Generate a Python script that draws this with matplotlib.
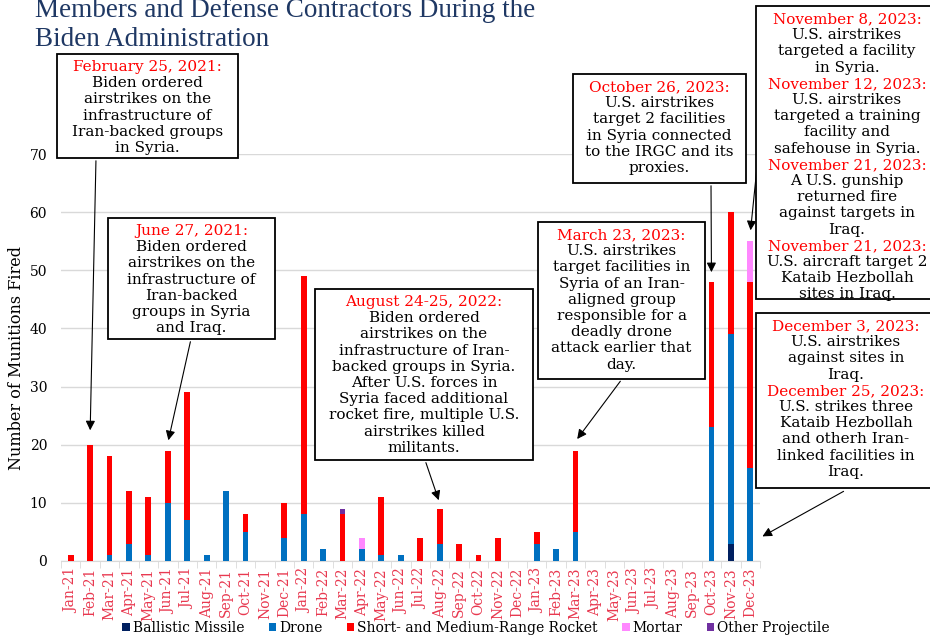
import numpy as np
import matplotlib.pyplot as plt
from matplotlib.patches import Rectangle, Patch

# Monthly munitions fired, Jan 2021 - Dec 2023
months = ['Jan-21', 'Feb-21', 'Mar-21', 'Apr-21', 'May-21', 'Jun-21', 'Jul-21', 'Aug-21', 'Sep-21',
          'Oct-21', 'Nov-21', 'Dec-21', 'Jan-22', 'Feb-22', 'Mar-22', 'Apr-22', 'May-22', 'Jun-22',
          'Jul-22', 'Aug-22', 'Sep-22', 'Oct-22', 'Nov-22', 'Dec-22', 'Jan-23', 'Feb-23', 'Mar-23',
          'Apr-23', 'May-23', 'Jun-23', 'Jul-23', 'Aug-23', 'Sep-23', 'Oct-23', 'Nov-23', 'Dec-23']
ballistic = [0, 0, 0, 0, 0, 0, 0, 0, 0, 0, 0, 0, 0, 0, 0, 0, 0, 0,
             0, 0, 0, 0, 0, 0, 0, 0, 0, 0, 0, 0, 0, 0, 0, 0, 3, 0]
drone = [0, 0, 1, 3, 1, 10, 7, 1, 12, 5, 0, 4, 8, 2, 0, 2, 1, 1,
         0, 3, 0, 0, 0, 0, 3, 2, 5, 0, 0, 0, 0, 0, 0, 23, 36, 16]
rocket = [1, 20, 17, 9, 10, 9, 22, 0, 0, 3, 0, 6, 41, 0, 8, 0, 10, 0,
          4, 6, 3, 1, 4, 0, 2, 0, 14, 0, 0, 0, 0, 0, 0, 25, 21, 32]
mortar = [0, 0, 0, 0, 0, 0, 0, 0, 0, 0, 0, 0, 0, 0, 0, 2, 0, 0,
          0, 0, 0, 0, 0, 0, 0, 0, 0, 0, 0, 0, 0, 0, 0, 0, 0, 7]
other = [0, 0, 0, 0, 0, 0, 0, 0, 0, 0, 0, 0, 0, 0, 1, 0, 0, 0,
         0, 0, 0, 0, 0, 0, 0, 0, 0, 0, 0, 0, 0, 0, 0, 0, 0, 0]

series_names = ['Ballistic Missile', 'Drone', 'Short- and Medium-Range Rocket', 'Mortar', 'Other Projectile']
series_colors = ['#002060', '#0070C0', '#FF0000', '#FF88FF', '#7030A0']

title_lines = ['Members and Defense Contractors During the', 'Biden Administration']

# annotation boxes (left, top, right, bottom in px), date headers in red
notes = [
    dict(box=(57, 54, 238, 158), cx=None, arrow_from=(96, 158), target=('Feb-21', 2.0),
         lines=[('February 25, 2021:', 'r'), ('Biden ordered', 'k'), ('airstrikes on the', 'k'),
                ('infrastructure of', 'k'), ('Iran-backed groups', 'k'), ('in Syria.', 'k')]),
    dict(box=(108, 218, 275, 339), cx=None, arrow_from=(191, 339), target=('Jun-21', 1.3),
         lines=[('June 27, 2021:', 'r'), ('Biden ordered', 'k'), ('airstrikes on the', 'k'),
                ('infrastructure of', 'k'), ('Iran-backed', 'k'), ('groups in Syria', 'k'), ('and Iraq.', 'k')]),
    dict(box=(315, 289, 533, 460), cx=None, arrow_from=(425, 460), target=('Aug-22', 1.0),
         lines=[('August 24-25, 2022:', 'r'), ('Biden ordered', 'k'), ('airstrikes on the', 'k'),
                ('infrastructure of Iran-', 'k'), ('backed groups in Syria.', 'k'),
                ('After U.S. forces in', 'k'), ('Syria faced additional', 'k'),
                ('rocket fire, multiple U.S.', 'k'), ('airstrikes killed', 'k'), ('militants.', 'k')]),
    dict(box=(538, 222, 705, 379), cx=None, arrow_from=(622, 379), target=('Mar-23', 1.6),
         lines=[('March 23, 2023:', 'r'), ('U.S. airstrikes', 'k'), ('target facilities in', 'k'),
                ('Syria of an Iran-', 'k'), ('aligned group', 'k'), ('responsible for a', 'k'),
                ('deadly drone', 'k'), ('attack earlier that', 'k'), ('day.', 'k')]),
    dict(box=(573, 74, 746, 183), cx=None, arrow_from=(711, 183), target=('Oct-23', 1.2),
         lines=[('October 26, 2023:', 'r'), ('U.S. airstrikes', 'k'), ('target 2 facilities', 'k'),
                ('in Syria connected', 'k'), ('to the IRGC and its', 'k'), ('proxies.', 'k')]),
    dict(box=(756, 6, 940, 299), cx=847, arrow_from=(757, 167), target=('Dec-23', 1.4),
         lines=[('November 8, 2023:', 'r'), ('U.S. airstrikes', 'k'), ('targeted a facility', 'k'),
                ('in Syria.', 'k'), ('November 12, 2023:', 'r'), ('U.S. airstrikes', 'k'),
                ('targeted a training', 'k'), ('facility and', 'k'), ('safehouse in Syria.', 'k'),
                ('November 21, 2023:', 'r'), ('A U.S. gunship', 'k'), ('returned fire', 'k'),
                ('against targets in', 'k'), ('Iraq.', 'k'), ('November 21, 2023:', 'r'),
                ('U.S. aircraft target 2', 'k'), ('Kataib Hezbollah', 'k'), ('sites in Iraq.', 'k')]),
    dict(box=(756, 313, 940, 488), cx=846, arrow_from=(846, 490), target=None,
         lines=[('December 3, 2023:', 'r'), ('U.S. airstrikes', 'k'), ('against sites in', 'k'),
                ('Iraq.', 'k'), ('December 25, 2023:', 'r'), ('U.S. strikes three', 'k'),
                ('Kataib Hezbollah', 'k'), ('and otherh Iran-', 'k'), ('linked facilities in', 'k'),
                ('Iraq.', 'k')]),
]

W, H = 930, 637
plt.rcParams['font.family'] = ['DejaVu Serif']

def fx(px):
    return px / W

def fy(py):
    return 1 - py / H

fig = plt.figure(figsize=(W / 100, H / 100), dpi=100)
ax = fig.add_axes([fx(61), fy(561), fx(760) - fx(61), fy(154) - fy(561)])

x = np.arange(len(months))
bottom = np.zeros(len(months))
for vals, name, col in zip([ballistic, drone, rocket, mortar, other], series_names, series_colors):
    vals = np.array(vals, dtype=float)
    ax.bar(x, vals, width=0.3, bottom=bottom, color=col, label=name, zorder=3)
    bottom += vals
totals = bottom

ax.set_xlim(-0.5, len(months) - 0.5)
ax.set_ylim(0, 70)
ax.set_yticks(range(0, 71, 10))
ax.yaxis.grid(True, color='#D9D9D9', lw=1, zorder=0)
for s in ['top', 'right', 'left']:
    ax.spines[s].set_visible(False)
ax.spines['bottom'].set_color('#D9D9D9')
ax.set_xticks(x)
ax.set_xticklabels(months, rotation=90, color='#E8384F', fontsize=10)
ax.set_xticks(np.arange(-0.5, len(months), 1), minor=True)
ax.tick_params(axis='x', which='major', length=0, pad=5)
ax.tick_params(axis='x', which='minor', length=5, color='#D9D9D9')
ax.tick_params(axis='y', length=0, labelsize=10, pad=10)
ax.set_ylabel('Number of Munitions Fired', fontsize=11.5, labelpad=3)

# title, partly cut at the top edge like the source image
fig.text(fx(35), fy(17), title_lines[0], color='#1F3864', ha='left', va='baseline',
         family='Liberation Serif', fontsize=19.5)
fig.text(fx(35), fy(46), title_lines[1], color='#1F3864', ha='left', va='baseline',
         family='Liberation Serif', fontsize=19.5)

line_h = 16.2
for n in notes:
    l, t, r, b = n['box']
    fig.add_artist(Rectangle((fx(l), fy(b)), fx(r) - fx(l), fy(t) - fy(b),
                             transform=fig.transFigure, facecolor='white',
                             edgecolor='black', lw=1.3, zorder=5))
    cx = n['cx'] if n['cx'] is not None else (l + r) / 2
    for i, (txt, c) in enumerate(n['lines']):
        fig.text(fx(cx), fy(t + 13 + i * line_h), txt, ha='center', va='center',
                 fontsize=11, color='#FF0000' if c == 'r' else 'black', zorder=6)
    if n['target'] is not None:
        idx = months.index(n['target'][0])
        xy = (idx, totals[idx] + n['target'][1])
    else:
        xy = (len(months) - 0.5, 4)
    ax.annotate('', xy=xy, xycoords='data',
                xytext=(fx(n['arrow_from'][0]), fy(n['arrow_from'][1])), textcoords='figure fraction',
                arrowprops=dict(arrowstyle='-|>', color='black', lw=0.8, mutation_scale=14),
                annotation_clip=False, zorder=6)

handles = [Patch(facecolor=c, label=nm) for nm, c in zip(series_names, series_colors)]
fig.legend(handles=handles, loc='center', bbox_to_anchor=(fx(476), fy(628)), ncol=5,
           frameon=False, fontsize=10, handlelength=0.55, handleheight=0.55,
           handletextpad=0.2, columnspacing=1.75)

fig.savefig('out.png', dpi=100)
